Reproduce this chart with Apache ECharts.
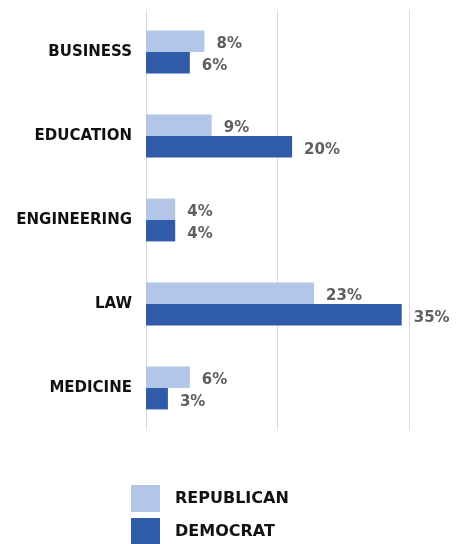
<!DOCTYPE html>
<html>
<head>
<meta charset="utf-8">
<script src="https://cdn.jsdelivr.net/npm/echarts@6/dist/echarts.min.js"></script>
<style>
  html, body { margin: 0; padding: 0; background: #fff; }
  #chart { width: 458px; height: 544px; }
</style>
</head>
<body>
<div id="chart"></div>
<script>
// Share of each profession by party, in percent
const categories = ['BUSINESS', 'EDUCATION', 'ENGINEERING', 'LAW', 'MEDICINE'];
const republican = [8, 9, 4, 23, 6];
const democrat = [6, 20, 4, 35, 3];

const FONT = 'DejaVu Sans';

const valueLabel = {
  show: true,
  position: 'right',
  distance: 12,
  offset: [0, 3],
  formatter: '{c}%',
  color: '#5f5f5f',
  fontFamily: FONT,
  fontWeight: 'bold',
  fontSize: 15
};

const chart = echarts.init(document.getElementById('chart'), null, { renderer: 'canvas' });
chart.setOption({
  backgroundColor: '#ffffff',
  animation: false,
  grid: { left: 146, right: 49, top: 10, height: 420, containLabel: false },
  legend: {
    orient: 'vertical',
    left: 131,
    top: 485,
    height: 120,
    padding: 0,
    itemWidth: 29,
    itemHeight: 27,
    itemGap: 6,
    icon: 'rect',
    textStyle: {
      fontFamily: FONT,
      fontWeight: 'bold',
      fontSize: 16,
      color: '#111',
      padding: [0, 0, 0, 10]
    },
    data: ['REPUBLICAN', 'DEMOCRAT']
  },
  xAxis: {
    type: 'value',
    min: 0,
    max: 36,
    interval: 18,
    axisLabel: { show: false },
    axisLine: { show: false },
    axisTick: { show: false },
    splitLine: { show: true, lineStyle: { color: '#dcdcdc', width: 1 } }
  },
  yAxis: {
    type: 'category',
    inverse: true,
    data: categories,
    axisLine: { show: false },
    axisTick: { show: false },
    axisLabel: {
      margin: 14,
      color: '#111',
      fontFamily: FONT,
      fontWeight: 'bold',
      fontSize: 15
    }
  },
  series: [
    {
      name: 'REPUBLICAN',
      type: 'bar',
      data: republican,
      itemStyle: { color: '#b4c6e7' },
      barGap: '0%',
      barCategoryGap: '49%',
      label: valueLabel
    },
    {
      name: 'DEMOCRAT',
      type: 'bar',
      data: democrat,
      itemStyle: { color: '#2f5ba8' },
      barGap: '0%',
      barCategoryGap: '49%',
      label: valueLabel
    }
  ]
});
</script>
</body>
</html>
